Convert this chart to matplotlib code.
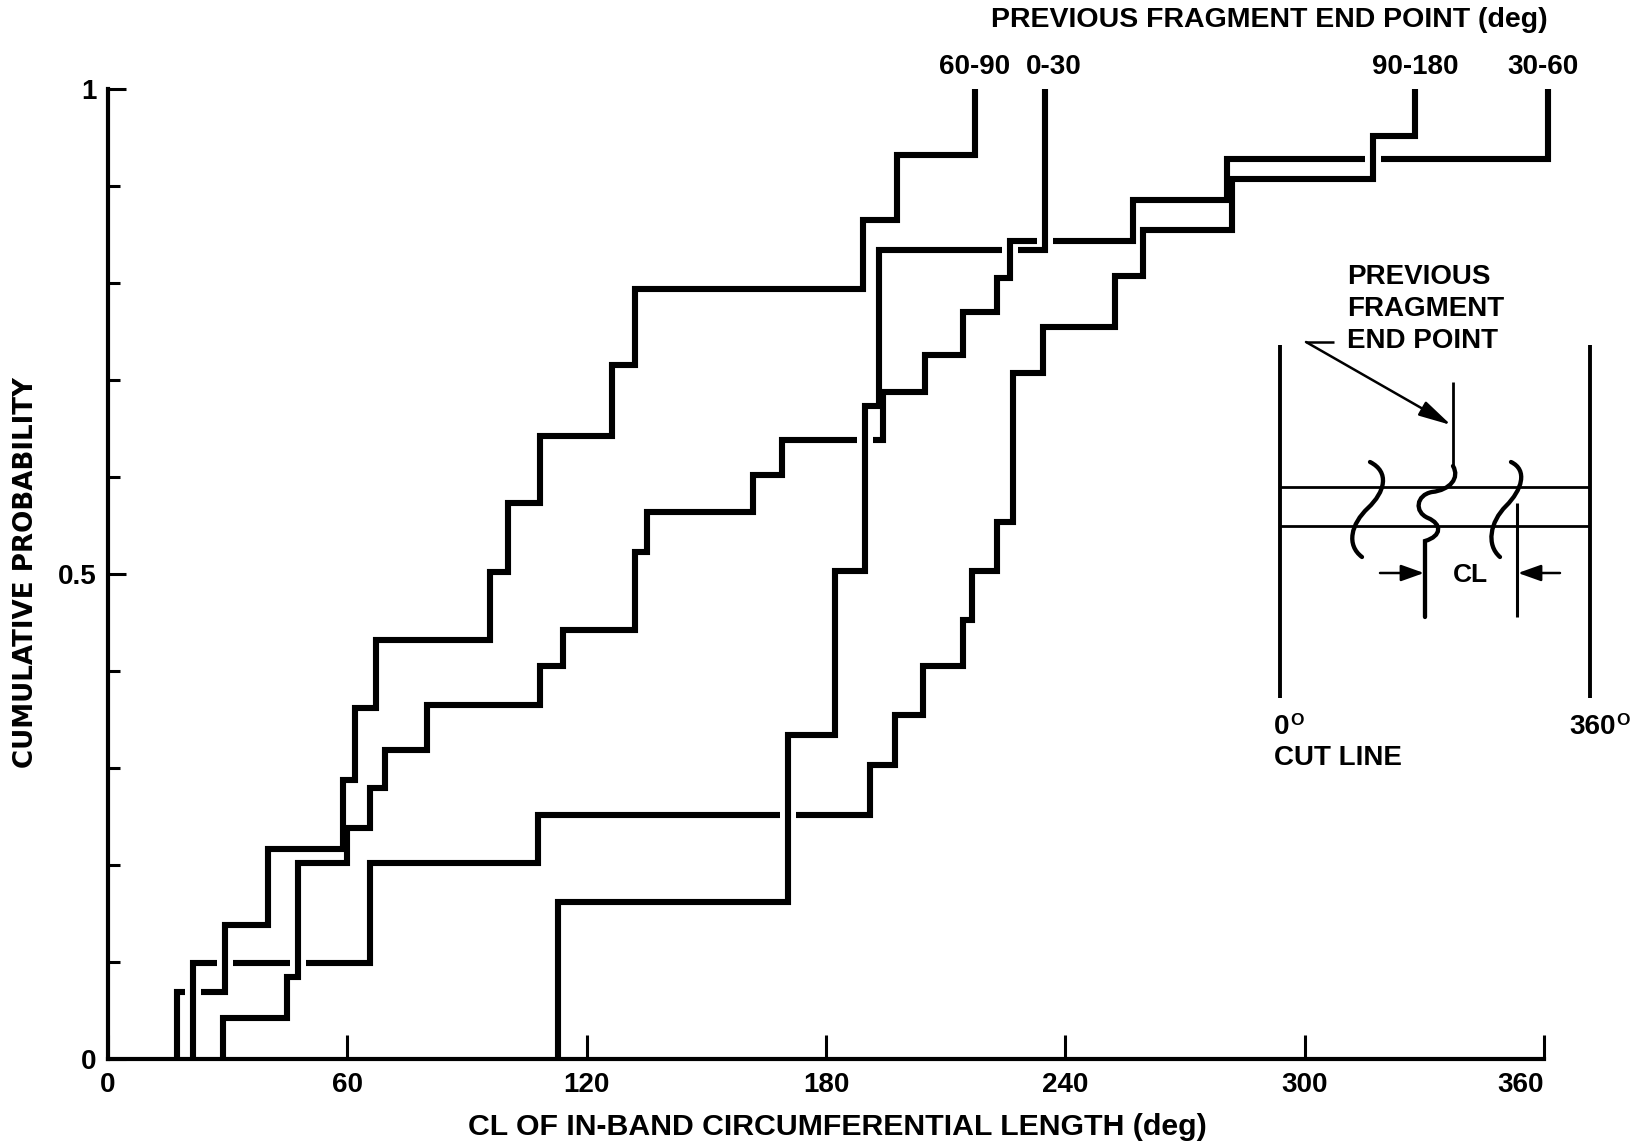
import numpy as np
import matplotlib
matplotlib.use("Agg")
import matplotlib.pyplot as plt
from matplotlib.path import Path
from matplotlib.patches import PathPatch

# ---- data: empirical cumulative distributions of CL, one per end-point group ----
cl_60_90 = [17.2, 29.3, 40.2, 59.0, 61.9, 67.3, 95.8, 100.4, 108.3, 126.3,
            132.1, 189.3, 197.7, 217.3]
p_60_90 = [0.069, 0.138, 0.217, 0.288, 0.362, 0.432, 0.502, 0.573, 0.642, 0.715,
           0.794, 0.865, 0.932, 1.0]

cl_0_30 = [112.9, 170.5, 182.2, 189.8, 193.3, 234.9]
p_0_30 = [0.162, 0.334, 0.503, 0.673, 0.834, 1.0]

cl_90_180 = [21.4, 65.7, 107.9, 191.0, 197.3, 204.4, 214.4, 216.5, 222.8, 227.0,
             234.5, 252.4, 259.5, 281.8, 317.1, 327.6]
p_90_180 = [0.099, 0.202, 0.252, 0.303, 0.355, 0.405, 0.453, 0.503, 0.554, 0.707,
            0.755, 0.807, 0.855, 0.907, 0.952, 1.0]

cl_30_60 = [28.9, 44.8, 47.7, 59.8, 65.7, 69.4, 79.9, 108.3, 114.1, 132.1,
            135.0, 161.8, 168.9, 194.4, 204.8, 214.4, 222.8, 226.1, 257.0, 280.5, 361.0]
p_30_60 = [0.042, 0.085, 0.202, 0.238, 0.279, 0.319, 0.365, 0.405, 0.442, 0.523,
           0.564, 0.602, 0.638, 0.688, 0.726, 0.770, 0.805, 0.843, 0.886, 0.928, 1.0]

group_labels = ["60-90", "0-30", "90-180", "30-60"]

x_ticks = [0, 60, 120, 180, 240, 300, 360]
x_tick_labels = ["0", "60", "120", "180", "240", "300", "360"]
y_ticks = [0, 0.5, 1]
y_tick_labels = ["0", "0.5", "1"]
y_minor_ticks = [0.1, 0.2, 0.3, 0.4, 0.6, 0.7, 0.8, 0.9]

# ---- figure setup ----
W, H, DPI = 1640, 1144, 100
plt.rcParams["font.family"] = ["Liberation Sans", "DejaVu Sans"]
plt.rcParams["font.weight"] = "bold"

fig = plt.figure(figsize=(W / DPI, H / DPI), dpi=DPI)
fig.patch.set_facecolor("white")


def fpos(x, y):
    """Pixel position (origin top-left) to figure fraction."""
    return x / W, 1 - y / H


ax = fig.add_axes([108 / W, 1 - 1059 / H, 1436 / W, 970 / H])
ax.set_xlim(0, 360)
ax.set_ylim(0, 1)
for side in ("top", "right"):
    ax.spines[side].set_visible(False)
for side in ("left", "bottom"):
    ax.spines[side].set_linewidth(3.0)

ax.set_xticks(x_ticks)
ax.set_xticklabels(x_tick_labels)
ax.set_yticks(y_ticks)
ax.set_yticklabels(y_tick_labels)
ax.set_yticks(y_minor_ticks, minor=True)
ax.tick_params(axis="x", direction="in", length=17, width=2.2, pad=9.5, labelsize=20)
ax.tick_params(axis="y", which="major", direction="in", length=13, width=2.2,
               pad=8.5, labelsize=20)
ax.tick_params(axis="y", which="minor", direction="in", length=8.5, width=2.2)
ax.get_xticklabels()[-1].set_horizontalalignment("right")

# ---- step curves, horizontals broken where another curve's riser crosses ----
series = [
    (cl_60_90, p_60_90, group_labels[0], 0),
    (cl_0_30, p_0_30, group_labels[1], 6),
    (cl_90_180, p_90_180, group_labels[2], 0),
    (cl_30_60, p_30_60, group_labels[3], -3.5),
]


def risers(cl, p):
    lower = [0.0] + list(p[:-1])
    return list(zip(cl, lower, p))


GAP = 2.0  # half-width of a break, in degrees
for i, (cl, p, label, dx) in enumerate(series):
    others = [r for j, s in enumerate(series) if j != i for r in risers(s[0], s[1])]
    xs = [cl[0], cl[0]]
    ys = [0.0, p[0]]
    for k in range(1, len(cl)):
        x0, x1, lvl = cl[k - 1], cl[k], p[k - 1]
        cuts = sorted(rx for rx, a, b in others
                      if x0 < rx < x1 and a + 0.004 < lvl < b - 0.004)
        for c in cuts:
            xs += [c - GAP, np.nan, c + GAP]
            ys += [lvl, np.nan, lvl]
        xs += [x1, x1]
        ys += [lvl, p[k]]
    ax.plot(xs, ys, color="black", lw=4.4, solid_joinstyle="miter",
            solid_capstyle="butt", clip_on=False, zorder=3)
    ax.annotate(label, xy=(cl[-1], p[-1]), xytext=(dx, 15.5),
                textcoords="offset points", ha="center", va="center",
                fontsize=20, fontweight="bold", annotation_clip=False)

# ---- titles ----
fig.text(*fpos(1269, 20), "PREVIOUS FRAGMENT END POINT (deg)", ha="center",
         va="center", fontsize=20.5, fontweight="bold")
fig.text(*fpos(837, 1127), "CL OF IN-BAND CIRCUMFERENTIAL LENGTH (deg)",
         ha="center", va="center", fontsize=21.8, fontweight="bold")
fig.text(*fpos(26, 573), "CUMULATIVE PROBABILITY", rotation=90, ha="center",
         va="center", fontsize=18.8, fontweight="bold", family="DejaVu Sans")

# ---- explanatory sketch of the band and cut line ----
ov = fig.add_axes([0, 0, 1, 1], zorder=5)
ov.set_xlim(0, W)
ov.set_ylim(H, 0)
ov.axis("off")
ov.patch.set_alpha(0)

K = dict(color="black", solid_capstyle="butt")
# band edges and band
ov.plot([1280, 1280], [345, 698], lw=2.8, **K)
ov.plot([1590, 1590], [345, 698], lw=2.8, **K)
ov.plot([1280, 1590], [487, 487], lw=2.0, **K)
ov.plot([1280, 1590], [526, 526], lw=2.0, **K)
# previous end point marker
ov.plot([1453, 1453], [382, 468], lw=2.0, **K)
# CL boundaries
ov.plot([1517, 1517], [503, 617], lw=2.2, **K)


def bezier(points, tail=None):
    verts = [points[0]]
    codes = [Path.MOVETO]
    for n in range(1, len(points), 3):
        verts += points[n:n + 3]
        codes += [Path.CURVE4] * 3
    if tail is not None:
        verts.append(tail)
        codes.append(Path.LINETO)
    return Path(verts, codes)


cracks = [
    bezier([(1370, 462), (1390, 472), (1385, 492), (1368, 508),
            (1351, 524), (1346, 545), (1362, 557)]),
    bezier([(1511, 462), (1528, 470), (1522, 490), (1506, 506),
            (1490, 522), (1486, 545), (1500, 557)]),
    bezier([(1453, 466), (1460, 478), (1450, 490), (1432, 492),
            (1416, 495), (1414, 512), (1428, 518),
            (1442, 524), (1442, 536), (1425, 541)], tail=(1425, 617)),
]
for path in cracks:
    ov.add_patch(PathPatch(path, fill=False, lw=3.1, edgecolor="black",
                           capstyle="round"))

# leader to end point
ov.plot([1306, 1334], [342, 342], lw=1.8, **K)
ov.annotate("", xy=(1451, 425), xytext=(1306, 342),
            arrowprops=dict(arrowstyle="-|>,head_length=0.9,head_width=0.22",
                            lw=1.8, color="black", shrinkA=0, shrinkB=0,
                            mutation_scale=22))
# CL dimension arrows
ov.annotate("", xy=(1424, 573), xytext=(1380, 573),
            arrowprops=dict(arrowstyle="-|>,head_length=0.7,head_width=0.25",
                            lw=1.8, color="black", shrinkA=0, shrinkB=0,
                            mutation_scale=20))
ov.annotate("", xy=(1518, 573), xytext=(1560, 573),
            arrowprops=dict(arrowstyle="-|>,head_length=0.7,head_width=0.25",
                            lw=1.8, color="black", shrinkA=0, shrinkB=0,
                            mutation_scale=20))

T = dict(fontsize=20, fontweight="bold", va="center")
ov.text(1347, 277, "PREVIOUS", ha="left", **T)
ov.text(1347, 309, "FRAGMENT", ha="left", **T)
ov.text(1347, 341, "END POINT", ha="left", **T)
ov.text(1470, 575, "CL", ha="center", fontsize=19, fontweight="bold", va="center")
ov.text(1274, 758, "CUT LINE", ha="left", **T)

zero = ov.text(1274, 727, "0", ha="left", **T)
ov.annotate("O", xy=(1.02, 1.02), xycoords=zero, ha="left", va="top",
            fontsize=12.5, fontweight="bold")
full = ov.text(1569, 727, "360", ha="left", **T)
ov.annotate("O", xy=(1.02, 1.02), xycoords=full, ha="left", va="top",
            fontsize=12.5, fontweight="bold")

fig.savefig("out.png", dpi=DPI, facecolor="white")
